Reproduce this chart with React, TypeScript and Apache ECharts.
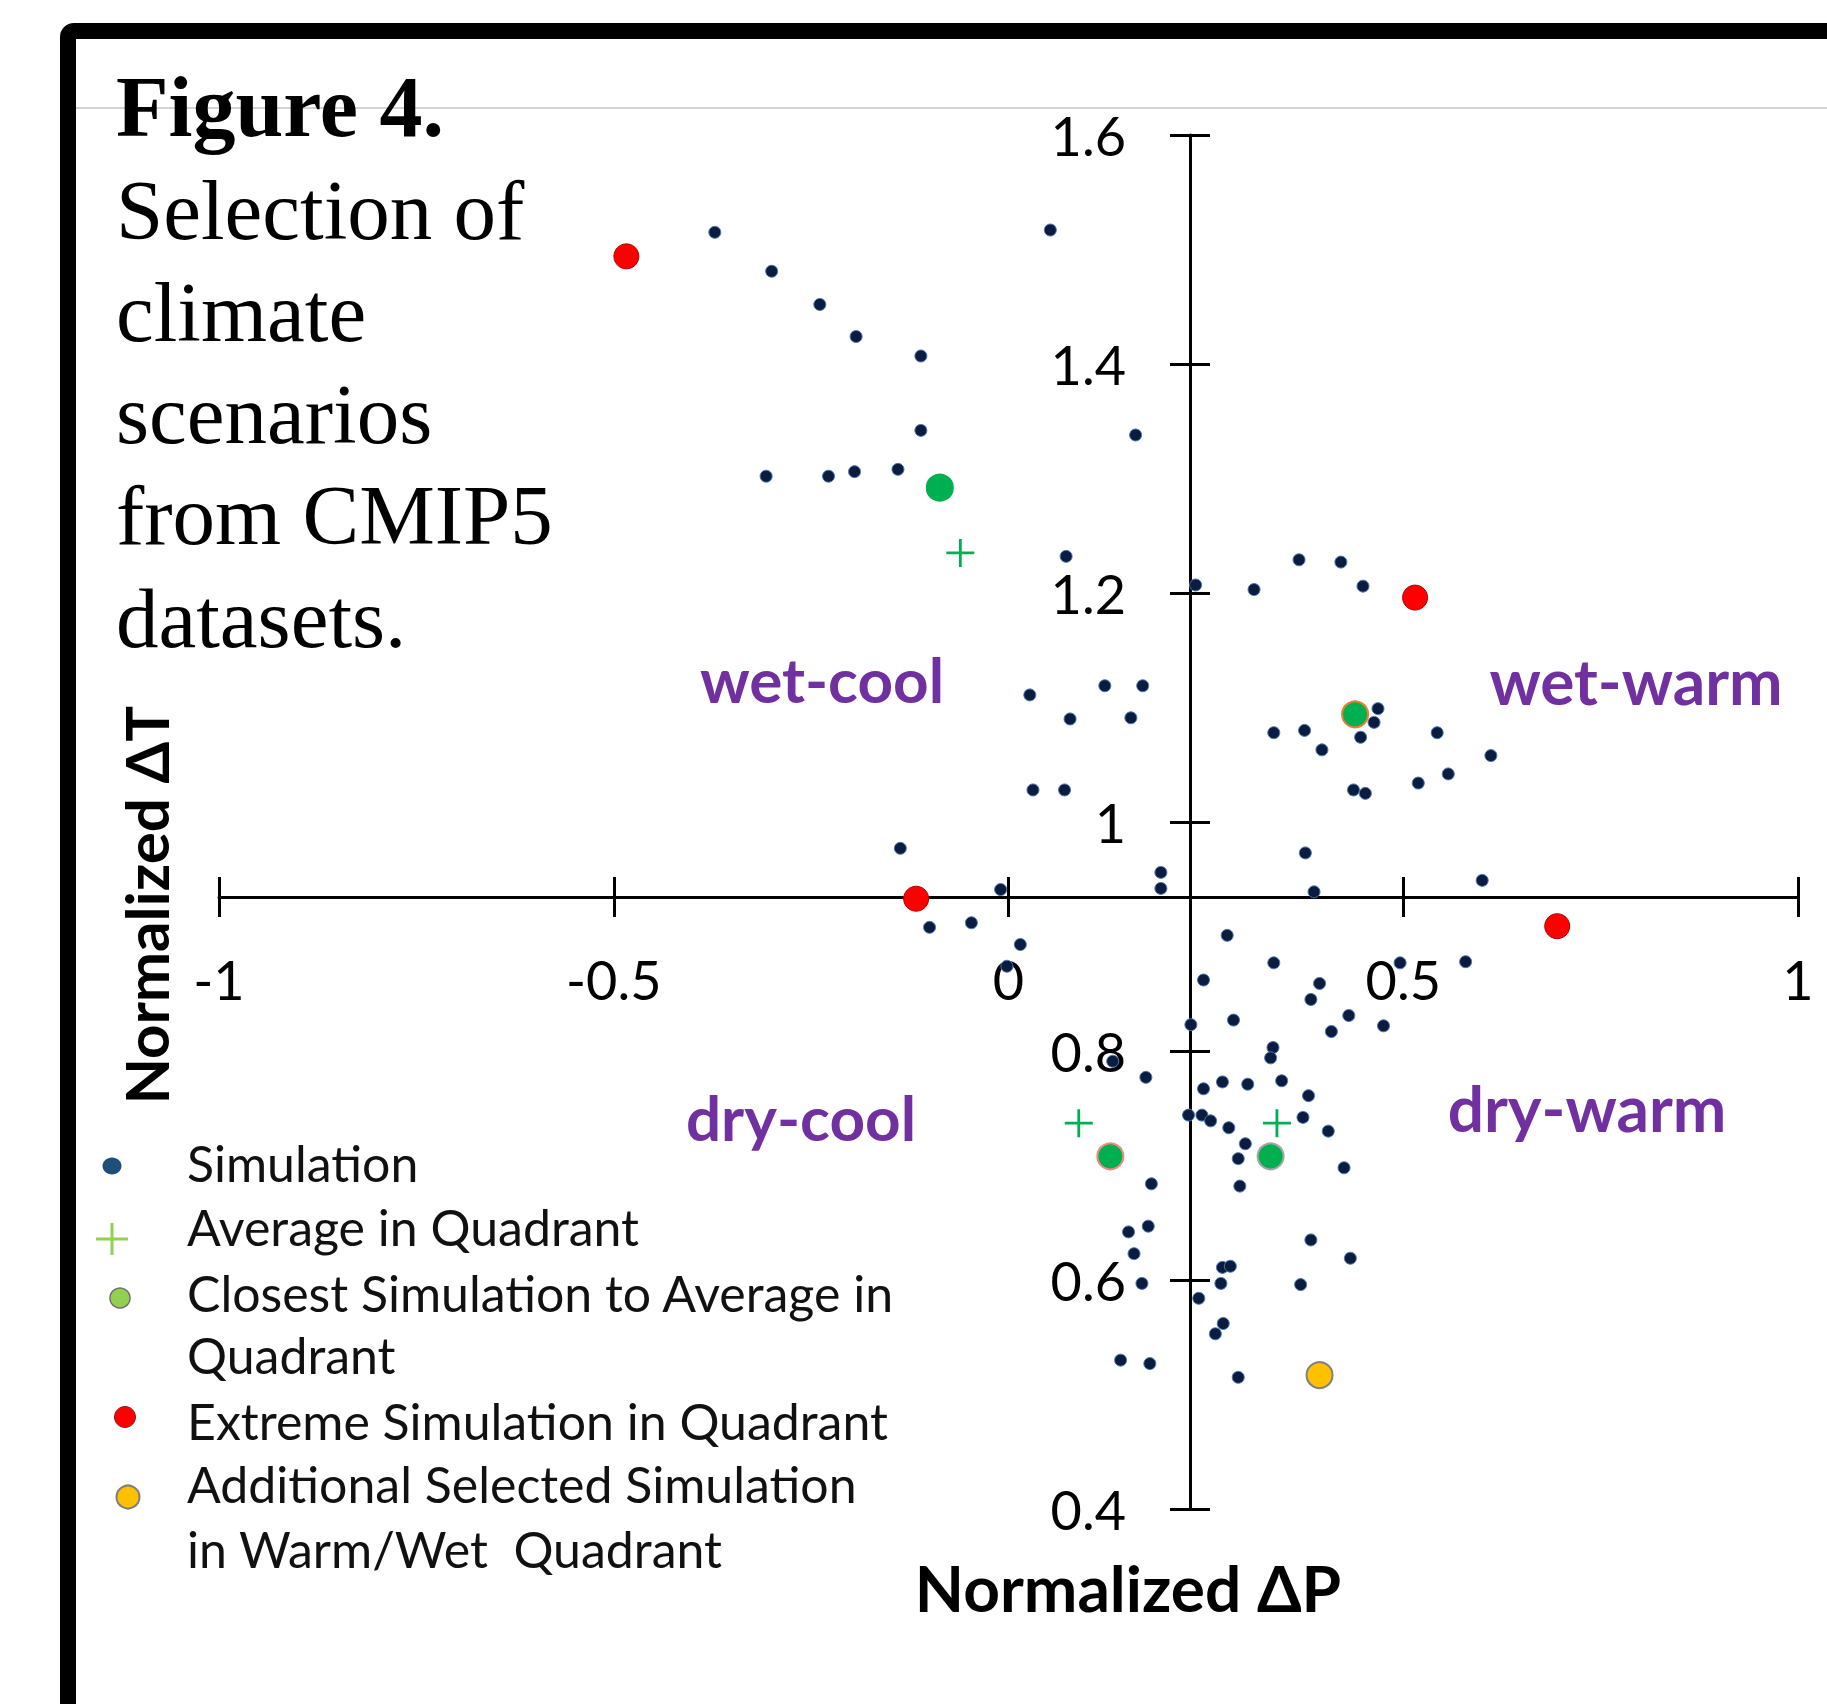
import React, { useEffect, useRef } from "react";
import * as echarts from "echarts";

// ---- tick labels ----
const xTickLabels = ["-1", "-0.5", "0", "0.5", "1"];
const yTickLabels = ["0.4", "0.6", "0.8", "1", "1.2", "1.4", "1.6"];

// ---- data: [normalized ΔP, normalized ΔT] ----
const simulations: [number, number][] = [
  [-0.372, 1.515], [0.053, 1.517], [-0.3, 1.481], [-0.239, 1.452], [-0.193, 1.424],
  [-0.111, 1.407], [-0.111, 1.342], [0.161, 1.338], [-0.307, 1.302], [-0.228, 1.302],
  [-0.195, 1.306], [-0.14, 1.308], [0.073, 1.232],
  [0.237, 1.207], [0.311, 1.203], [0.368, 1.229], [0.421, 1.227], [0.449, 1.206],
  [0.027, 1.111], [0.078, 1.09], [0.122, 1.119], [0.17, 1.119], [0.155, 1.091],
  [0.031, 1.028], [0.071, 1.028], [0.193, 0.956], [0.193, 0.942], [-0.137, 0.977],
  [-0.01, 0.941], [-0.1, 0.908], [-0.047, 0.912], [0.015, 0.893], [-0.002, 0.874],
  [0.468, 1.099], [0.463, 1.087], [0.446, 1.074], [0.336, 1.078], [0.375, 1.08],
  [0.397, 1.063], [0.543, 1.078], [0.611, 1.058], [0.519, 1.034], [0.557, 1.042],
  [0.437, 1.028], [0.452, 1.025], [0.376, 0.973], [0.387, 0.939], [0.6, 0.949],
  [0.579, 0.878], [0.496, 0.877], [0.277, 0.901], [0.336, 0.877], [0.247, 0.862],
  [0.394, 0.859], [0.383, 0.845], [0.431, 0.831], [0.409, 0.817], [0.475, 0.822],
  [0.285, 0.827], [0.231, 0.823], [0.335, 0.803], [0.332, 0.794], [0.132, 0.791],
  [0.174, 0.777], [0.247, 0.767], [0.271, 0.773], [0.303, 0.771], [0.346, 0.774],
  [0.38, 0.761], [0.228, 0.744], [0.245, 0.744], [0.256, 0.739], [0.279, 0.733],
  [0.373, 0.742], [0.405, 0.73], [0.3, 0.719], [0.291, 0.706], [0.293, 0.682],
  [0.425, 0.698], [0.181, 0.684], [0.177, 0.647], [0.152, 0.642], [0.159, 0.623],
  [0.169, 0.597], [0.383, 0.635], [0.433, 0.619], [0.37, 0.596], [0.271, 0.611],
  [0.281, 0.612], [0.269, 0.597], [0.241, 0.584], [0.272, 0.562], [0.262, 0.553],
  [0.142, 0.53], [0.179, 0.527], [0.291, 0.515],
];
const averages: [number, number][] = [[-0.061, 1.235], [0.089, 0.737], [0.34, 0.737]];
const closest: [number, number][] = [[-0.087, 1.292], [0.439, 1.094], [0.129, 0.708], [0.332, 0.708]];
const extremes: [number, number][] = [[-0.484, 1.494], [0.515, 1.196], [-0.117, 0.933], [0.695, 0.909]];
const additional: [number, number][] = [[0.394, 0.517]];

const quadrantNames = ["wet-cool", "wet-warm", "dry-cool", "dry-warm"];
const captionTitle = "Figure 4.";
const captionLines = ["Selection of", "climate", "scenarios", "from CMIP5", "datasets."];
const legendLabels = [
  "Simulation",
  "Average in Quadrant",
  "Closest Simulation to Average in",
  "Quadrant",
  "Extreme Simulation in Quadrant",
  "Additional Selected Simulation",
  "in Warm/Wet  Quadrant",
];

const SANS = "Lato, 'Noto Sans', sans-serif";
const SERIF = "'Liberation Serif', 'DejaVu Serif', serif";
const PURPLE = "#7030A0";
const PLUS_PATH = "path://M9,0L11,0L11,9L20,9L20,11L11,11L11,20L9,20L9,11L0,11L0,9L9,9Z";

export default function App() {
  const ref = useRef<HTMLDivElement>(null);

  useEffect(() => {
    if (!ref.current) return;
    const chart = echarts.init(ref.current, undefined, { renderer: "svg" });

    const closestOutline = ["#00B050", "#ED7D31", "#F08A80", "#A6A6A6"];

    const legendYs = [1163, 1227, 1293, 1355, 1421, 1484, 1549];
    const captionYs = [210, 312, 414, 515, 618];

    const graphic: any[] = [
      // frame
      {
        type: "rect",
        z: 100,
        shape: { x: 68, y: 31, width: 1800, height: 1700, r: 6 },
        style: { fill: "none", stroke: "#000", lineWidth: 16 },
      },
      {
        type: "line",
        z: 1,
        shape: { x1: 76, y1: 108, x2: 1827, y2: 108 },
        style: { stroke: "#c4c4c4", lineWidth: 1.5 },
      },
      {
        type: "text",
        z: 50,
        x: 116,
        y: 107,
        style: {
          text: captionTitle,
          font: `bold 86px ${SERIF}`,
          fill: "#000",
          align: "left",
          verticalAlign: "middle",
        },
      },
      ...captionLines.map((t, i) => ({
        type: "text",
        z: 50,
        x: 116,
        y: captionYs[i],
        style: { text: t, font: `85px ${SERIF}`, fill: "#000", align: "left", verticalAlign: "middle" },
      })),
      // axis titles
      {
        type: "text",
        z: 50,
        x: 146,
        y: 905,
        rotation: Math.PI / 2,
        style: {
          text: "Normalized ΔT",
          font: `bold 60px ${SANS}`,
          fill: "#000",
          align: "center",
          verticalAlign: "middle",
        },
      },
      {
        type: "text",
        z: 50,
        x: 1128,
        y: 1587,
        style: {
          text: "Normalized ΔP",
          font: `bold 64px ${SANS}`,
          fill: "#000",
          align: "center",
          verticalAlign: "middle",
        },
      },
    ];

    // quadrant labels
    const quadPos = [
      [822, 679],
      [1636, 680],
      [801, 1117],
      [1587, 1107],
    ];
    const quadSize = [62, 64, 62, 64];
    quadrantNames.forEach((t, i) => {
      graphic.push({
        type: "text",
        z: 50,
        x: quadPos[i][0],
        y: quadPos[i][1],
        style: {
          text: t,
          font: `bold ${quadSize[i]}px ${SANS}`,
          fill: PURPLE,
          align: "center",
          verticalAlign: "middle",
        },
      });
    });

    // legend texts
    legendLabels.forEach((t, i) => {
      graphic.push({
        type: "text",
        z: 50,
        x: 187,
        y: legendYs[i],
        style: { text: t, font: `50px ${SANS}`, fill: "#111", align: "left", verticalAlign: "middle" },
      });
    });
    // legend icons
    graphic.push(
      { type: "ellipse", z: 50, shape: { cx: 112, cy: 1166, rx: 9.5, ry: 8.5 }, style: { fill: "#1F4E79" } },
      { type: "line", z: 50, shape: { x1: 96, y1: 1239, x2: 128, y2: 1239 }, style: { stroke: "#92D050", lineWidth: 3 } },
      { type: "line", z: 50, shape: { x1: 112, y1: 1223, x2: 112, y2: 1255 }, style: { stroke: "#92D050", lineWidth: 3 } },
      { type: "circle", z: 50, shape: { cx: 120, cy: 1298, r: 10 }, style: { fill: "#92D050", stroke: "#6F6F6F", lineWidth: 1.5 } },
      { type: "circle", z: 50, shape: { cx: 125, cy: 1417, r: 10.5 }, style: { fill: "#FF0000", stroke: "#8B1A1A", lineWidth: 1 } },
      { type: "circle", z: 50, shape: { cx: 128, cy: 1497, r: 11.5 }, style: { fill: "#FFC000", stroke: "#7F7F7F", lineWidth: 2 } }
    );

    const axisLabelStyle = { fontFamily: SANS, fontSize: 54, color: "#000" };

    const option: any = {
      animation: false,
      backgroundColor: "#fff",
      grid: { left: 219, right: 29, top: 135, bottom: 195, containLabel: false },
      xAxis: [
        {
          type: "value",
          min: -1,
          max: 1,
          interval: 0.5,
          position: "bottom",
          offset: -612,
          axisLine: { show: true, onZero: false, lineStyle: { color: "#000", width: 3 } },
          axisTick: { show: true, inside: false, length: 20, lineStyle: { color: "#000", width: 3 } },
          axisLabel: {
            ...axisLabelStyle,
            margin: 55,
            formatter: (v: number) => xTickLabels[Math.round((v + 1) / 0.5)] ?? "",
          },
          splitLine: { show: false },
        },
        {
          type: "value",
          min: -1,
          max: 1,
          interval: 0.5,
          position: "bottom",
          offset: -612,
          axisLine: { show: false, onZero: false },
          axisTick: { show: true, inside: true, length: 20, lineStyle: { color: "#000", width: 3 } },
          axisLabel: { show: false },
          splitLine: { show: false },
        },
      ],
      yAxis: [
        {
          type: "value",
          min: 0.4,
          max: 1.6,
          interval: 0.2,
          position: "left",
          offset: -971,
          axisLine: { show: true, onZero: false, lineStyle: { color: "#000", width: 3 } },
          axisTick: { show: true, inside: false, length: 20, lineStyle: { color: "#000", width: 3 } },
          axisLabel: {
            ...axisLabelStyle,
            margin: 64,
            formatter: (v: number) => yTickLabels[Math.round((v - 0.4) / 0.2)] ?? "",
          },
          splitLine: { show: false },
        },
        {
          type: "value",
          min: 0.4,
          max: 1.6,
          interval: 0.2,
          position: "left",
          offset: -971,
          axisLine: { show: false, onZero: false },
          axisTick: { show: true, inside: true, length: 20, lineStyle: { color: "#000", width: 3 } },
          axisLabel: { show: false },
          splitLine: { show: false },
        },
      ],
      graphic,
      series: [
        {
          name: "Simulation",
          type: "scatter",
          xAxisIndex: 0,
          yAxisIndex: 0,
          data: simulations,
          symbol: "circle",
          symbolSize: 12,
          z: 3,
          itemStyle: { color: "#0C1C3E", borderColor: "#4A78B8", borderWidth: 1, opacity: 1 },
        },
        {
          name: "Average in Quadrant",
          type: "scatter",
          xAxisIndex: 0,
          yAxisIndex: 0,
          data: averages,
          symbol: PLUS_PATH,
          symbolSize: 28,
          z: 4,
          itemStyle: { color: "#00B050", opacity: 1 },
        },
        {
          name: "Closest Simulation to Average in Quadrant",
          type: "scatter",
          xAxisIndex: 0,
          yAxisIndex: 0,
          data: closest.map((p, i) => ({
            value: p,
            itemStyle: { color: "#00B050", borderColor: closestOutline[i], borderWidth: 2 },
          })),
          symbol: "circle",
          symbolSize: 26,
          z: 5,
          itemStyle: { opacity: 1 },
        },
        {
          name: "Extreme Simulation in Quadrant",
          type: "scatter",
          xAxisIndex: 0,
          yAxisIndex: 0,
          data: extremes,
          symbol: "circle",
          symbolSize: 25,
          z: 5,
          itemStyle: { color: "#FF0000", borderColor: "#B00000", borderWidth: 1, opacity: 1 },
        },
        {
          name: "Additional Selected Simulation in Warm/Wet Quadrant",
          type: "scatter",
          xAxisIndex: 0,
          yAxisIndex: 0,
          data: additional,
          symbol: "circle",
          symbolSize: 26,
          z: 5,
          itemStyle: { color: "#FFC000", borderColor: "#808080", borderWidth: 2, opacity: 1 },
        },
      ],
    };

    chart.setOption(option);
    return () => chart.dispose();
  }, []);

  return (
    <div
      ref={ref}
      style={{ position: "absolute", left: 0, top: 0, width: 1827, height: 1704, background: "#fff" }}
    />
  );
}
